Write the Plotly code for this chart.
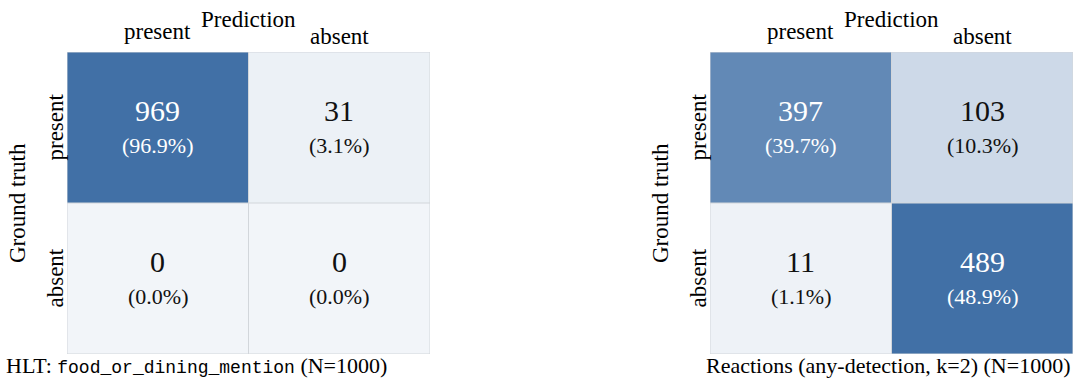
import plotly.graph_objects as go

# ---- data -------------------------------------------------------------
categories = ["present", "absent"]

hlt_counts = [[969, 31],
              [0, 0]]
hlt_total = 1000
hlt_label = "food_or_dining_mention"

reaction_counts = [[397, 103],
                   [11, 489]]
reaction_total = 1000
reaction_label = "Reactions (any-detection, k=2)"

# ---- styling ------------------------------------------------------------
W, H = 1089, 379
SERIF = "Liberation Serif, Times New Roman, serif"
MONO = "Liberation Mono, Courier New, monospace"
LIGHT = "#f2f5f9"
DARK = "#4170a6"
BORDER = "#d2d6db"


def px_x(v):
    return v / W


def px_y(v):
    return 1 - v / H


panels = [
    dict(counts=hlt_counts, total=hlt_total, left=67, right=430,
         title=("HLT: <span style='font-family:" + MONO + ";font-size:18px'>"
                + hlt_label + "</span> (N=" + str(hlt_total) + ")"),
         title_x=196),
    dict(counts=reaction_counts, total=reaction_total, left=710, right=1073,
         title=reaction_label + " (N=" + str(reaction_total) + ")",
         title_x=888),
]
grid_top, grid_bottom = 52, 354

fig = go.Figure()
annotations = []
shapes = []

for i, p in enumerate(panels, start=1):
    xa = "x" if i == 1 else f"x{i}"
    ya = "y" if i == 1 else f"y{i}"
    counts = p["counts"]
    zmax = max(max(r) for r in counts)

    fig.add_trace(go.Heatmap(
        z=counts, x=[0, 1], y=[0, 1],
        zmin=0, zmax=zmax,
        colorscale=[[0, LIGHT], [1, DARK]],
        showscale=False, hoverinfo="skip",
        xaxis=xa, yaxis=ya,
    ))

    ax_common = dict(showticklabels=False, showgrid=False, zeroline=False,
                     ticks="", fixedrange=True)
    fig.update_layout(**{
        ("xaxis" if i == 1 else f"xaxis{i}"): dict(
            domain=[px_x(p["left"]), px_x(p["right"])], range=[-0.5, 1.5],
            anchor=ya, **ax_common),
        ("yaxis" if i == 1 else f"yaxis{i}"): dict(
            domain=[px_y(grid_bottom), px_y(grid_top)], range=[1.5, -0.5],
            anchor=xa, **ax_common),
    })

    # cell borders
    for b in (-0.5, 0.5, 1.5):
        shapes.append(dict(type="line", xref=xa, yref=ya, x0=b, x1=b,
                           y0=-0.5, y1=1.5, line=dict(color=BORDER, width=1)))
        shapes.append(dict(type="line", xref=xa, yref=ya, y0=b, y1=b,
                           x0=-0.5, x1=1.5, line=dict(color=BORDER, width=1)))

    # cell values
    for r, row in enumerate(counts):
        for c, v in enumerate(row):
            colour = "white" if v / zmax > 0.5 else "#111111"
            annotations.append(dict(
                xref=xa, yref=ya, x=c, y=r, yshift=17, showarrow=False,
                text=str(v), font=dict(family=SERIF, size=30, color=colour)))
            annotations.append(dict(
                xref=xa, yref=ya, x=c, y=r, yshift=-18, showarrow=False,
                text=f"({100 * v / p['total']:.1f}%)",
                font=dict(family=SERIF, size=22, color=colour)))

    # column labels + header
    annotations.append(dict(xref=xa, yref="paper", x=0, y=px_y(31),
                            yanchor="middle", showarrow=False, text=categories[0],
                            font=dict(family=SERIF, size=23, color="black")))
    annotations.append(dict(xref=xa, yref="paper", x=1, y=px_y(36),
                            yanchor="middle", showarrow=False, text=categories[1],
                            font=dict(family=SERIF, size=23, color="black")))
    annotations.append(dict(xref=xa, yref="paper", x=0.5, y=px_y(20),
                            yanchor="middle", showarrow=False, text="Prediction",
                            font=dict(family=SERIF, size=23, color="black")))

    # row labels + axis title
    for r, cat in enumerate(categories):
        annotations.append(dict(xref="paper", yref=ya, x=px_x(p["left"] - 12), y=r,
                                xanchor="center", showarrow=False, text=cat,
                                textangle=-90,
                                font=dict(family=SERIF, size=23, color="black")))
    annotations.append(dict(xref="paper", yref=ya, x=px_x(p["left"] - 49), y=0.5,
                            xanchor="center", showarrow=False, text="Ground truth",
                            textangle=-90,
                            font=dict(family=SERIF, size=23, color="black")))

    # panel caption
    annotations.append(dict(xref="paper", yref="paper", x=px_x(p["title_x"]),
                            y=0, xanchor="center", yanchor="bottom",
                            borderpad=0, showarrow=False, text=p["title"],
                            font=dict(family=SERIF, size=22, color="black")))

fig.update_layout(
    width=W, height=H, margin=dict(l=0, r=0, t=0, b=0),
    paper_bgcolor="white", plot_bgcolor="white",
    annotations=annotations, shapes=shapes, showlegend=False,
)

fig.write_html("out.html")
